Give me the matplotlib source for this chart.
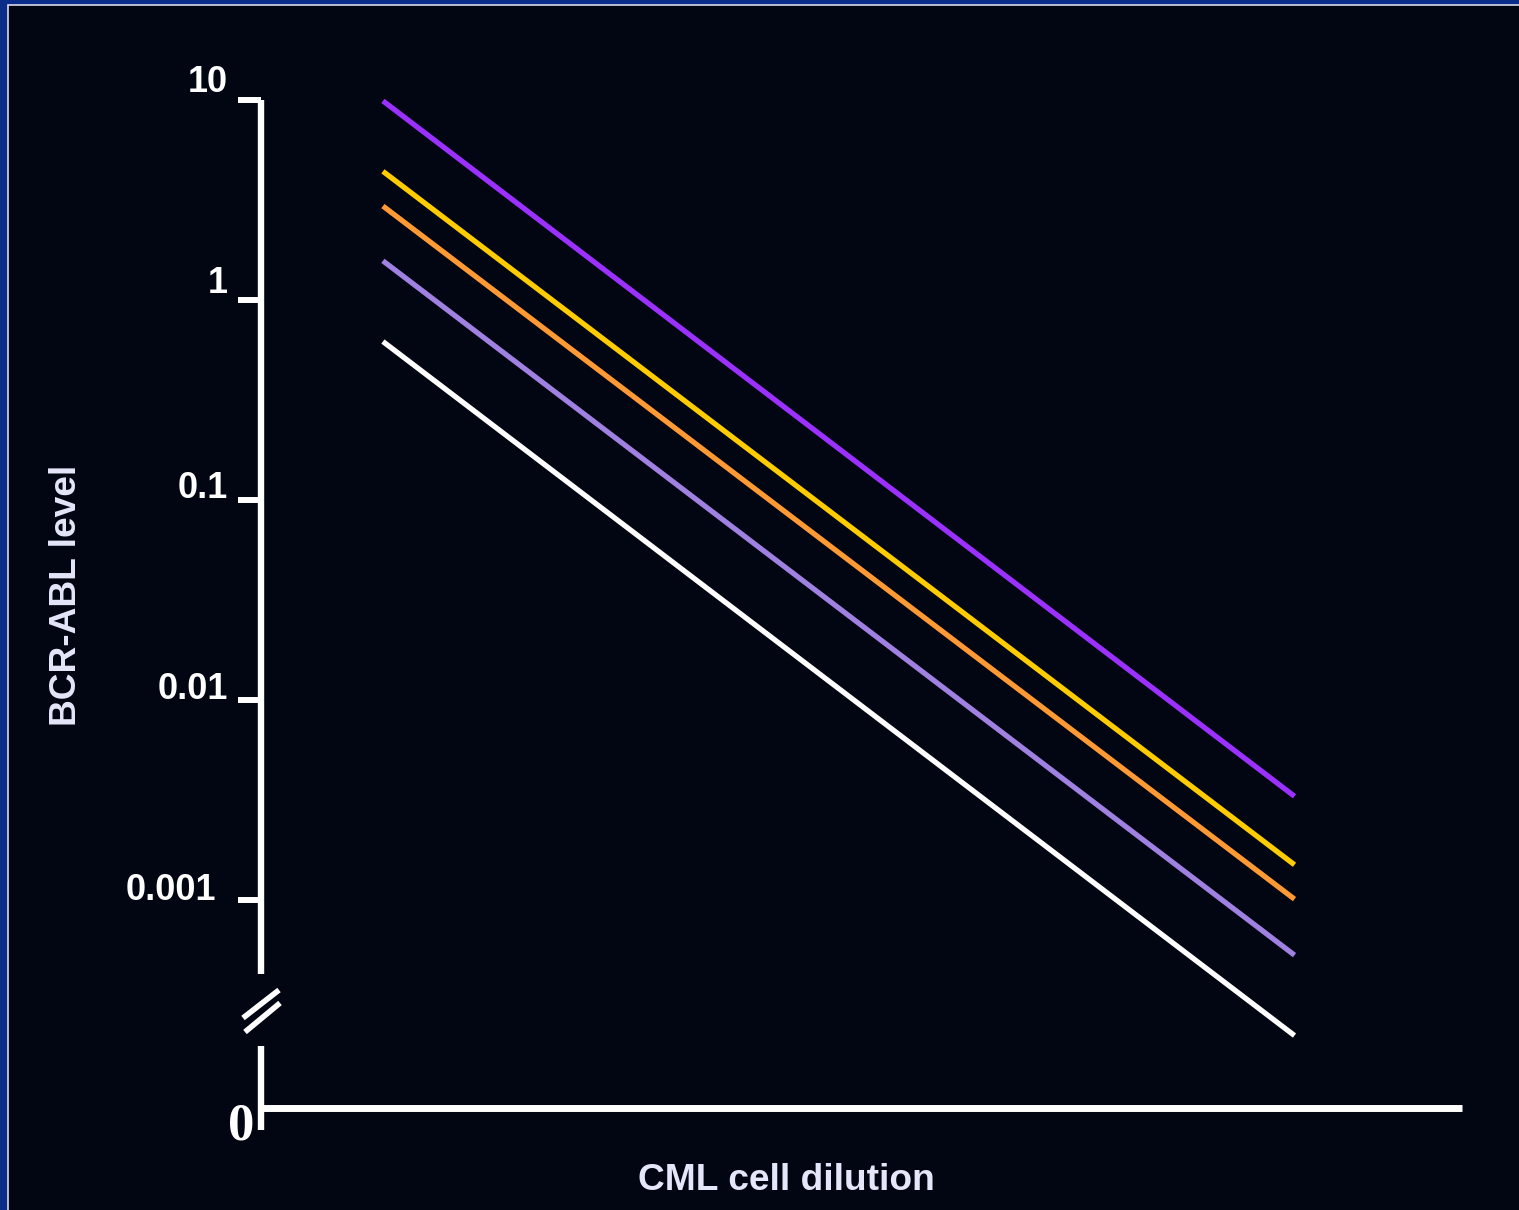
import numpy as np
import matplotlib
matplotlib.use("Agg")
import matplotlib.pyplot as plt
from matplotlib.patches import Rectangle
from matplotlib.lines import Line2D

# data (log scale, arbitrary dilution units on x)
x_start, x_end = 1.0, 9.0
series_names = ["purple", "yellow", "orange", "lavender", "white"]
start_levels = [9.9, 4.4, 2.95, 1.57, 0.62]
end_levels = [0.0033, 0.0015, 0.00101, 0.00053, 0.00021]
line_colors = ["#9b30ff", "#ffcc00", "#ff9933", "#a080e0", "#ffffff"]

ytick_vals = [10, 1, 0.1, 0.01, 0.001]
ytick_text = ["10", "1", "0.1", "0.01", "0.001"]
# labels sit a bit above / left of their ticks (px), as on the slide
ytick_lift = [18, 16, 11, 10, 9]
ytick_shift = [-33, -33, -33, -33, -45]

W, H = 1519, 1210
bg = "#020612"
fig = plt.figure(figsize=(W / 100, H / 100), dpi=100)
fig.patch.set_facecolor("#0a2d8a")
frame = Rectangle((8 / W, -0.01), 1.1, 1.01 - 5 / H, transform=fig.transFigure,
                  facecolor=bg, edgecolor="#d8d8e8", linewidth=1.2, zorder=-5)
fig.add_artist(frame)

def fx(px):
    return px / W

def fy(py):
    return 1 - py / H

ax = fig.add_axes([fx(261), fy(1130), fx(1462) - fx(261), fy(100) - fy(1130)])
ax.set_zorder(2)
ax.set_facecolor("none")
ax.set_yscale("log")
ax.set_xlim(-0.07, 10.47)
ax.set_ylim(10 ** -4.15, 10)

for s, e, c in zip(start_levels, end_levels, line_colors):
    ax.plot([x_start, x_end], [s, e], color=c, lw=3.8, solid_capstyle="butt", clip_on=False)

for side in ["top", "right"]:
    ax.spines[side].set_visible(False)
ax.spines["left"].set_color("white")
ax.spines["left"].set_linewidth(4.6)
ax.spines["left"].set_bounds(10 ** -3.37, 10)
ax.spines["left"].set_capstyle("butt")
ax.spines["bottom"].set_color("white")
ax.spines["bottom"].set_linewidth(5)
ax.spines["bottom"].set_capstyle("butt")
ax.spines["bottom"].set_position(("data", 10 ** -4.04))

# lower piece of the broken y axis
ax.plot([-0.07, -0.07], [10 ** -3.73, 10 ** -4.15], color="white", lw=4.6,
        solid_capstyle="butt", clip_on=False)

ax.set_xticks([])
ax.set_yticks(ytick_vals)
ax.set_yticklabels([])
ax.minorticks_off()
ax.tick_params(axis="y", which="major", length=16.5, width=4.3, color="white", direction="out")

for v, t, lift, dx in zip(ytick_vals, ytick_text, ytick_lift, ytick_shift):
    ax.annotate(t, xy=(0, v), xycoords=("axes fraction", "data"),
                xytext=(dx, lift), textcoords="offset pixels",
                ha="right", va="center", fontsize=26, fontweight="bold",
                color="white", family="Liberation Sans")

# break marks
for (x0, y0, x1, y1) in [(243, 1018, 279, 990), (245, 1032, 280, 1003)]:
    fig.add_artist(Line2D([fx(x0), fx(x1)], [fy(y0), fy(y1)], transform=fig.transFigure,
                          color="white", lw=4, solid_capstyle="butt"))

fig.text(fx(241), fy(1127), "0", ha="center", va="center", fontsize=38,
         fontweight="bold", color="white", family="Liberation Serif")

fig.text(fx(786), fy(1180), "CML cell dilution", ha="center", va="center",
         fontsize=26.7, fontweight="bold", color="#e6e6fa", family="Liberation Sans")
fig.text(fx(67), fy(595), "BCR-ABL level", ha="center", va="center", rotation=90,
         fontsize=26.7, fontweight="bold", color="#e6e6fa", family="Liberation Sans")

fig.savefig("out.png", dpi=100, facecolor=fig.get_facecolor())
